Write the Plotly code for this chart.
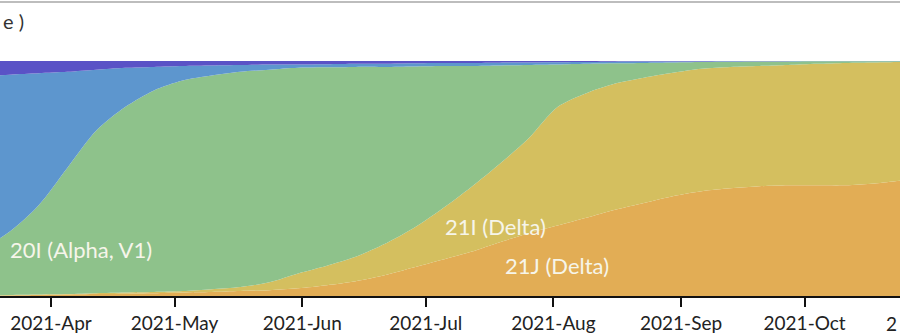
import plotly.graph_objects as go

dates = ["2021-03-15", "2021-03-22", "2021-03-29", "2021-04-05", "2021-04-12", "2021-04-19",
         "2021-04-26", "2021-05-03", "2021-05-10", "2021-05-17", "2021-05-24", "2021-05-31",
         "2021-06-07", "2021-06-14", "2021-06-21", "2021-06-28", "2021-07-05", "2021-07-12",
         "2021-07-19", "2021-07-26", "2021-08-02", "2021-08-09", "2021-08-16", "2021-08-23",
         "2021-08-30", "2021-09-06", "2021-09-13", "2021-09-20", "2021-09-27", "2021-10-04",
         "2021-10-11", "2021-10-18", "2021-10-25", "2021-11-01"]

# clade frequencies (%), bottom to top of the stack
clade_21J = [0.0, 0.2, 0.4, 0.6, 0.8, 1.0, 1.2, 1.5, 1.7, 2.1, 2.5, 3.3, 4.6, 6.3, 8.8, 12.1, 15.4,
             18.8, 22.9, 26.7, 30.0, 33.3, 36.7, 39.6, 42.5, 44.6, 45.8, 46.7, 47.1, 47.1, 47.1,
             47.9, 49.2, 49.6]
clade_21I = [0.2, 0.2, 0.2, 0.2, 0.4, 0.5, 0.5, 0.6, 1.2, 1.7, 3.3, 6.3, 8.3, 10.4, 13.3, 16.7, 21.7,
             27.5, 33.4, 40.4, 50.4, 53.0, 53.7, 53.3, 52.5, 52.1, 51.7, 51.2, 51.2, 51.7, 52.1,
             51.5, 50.4, 50.0]
clade_20I = [19.5, 27.0, 38.0, 53.8, 69.2, 78.9, 85.8, 89.6, 90.9, 91.6, 90.5, 87.5, 84.4, 80.8, 75.4,
             68.9, 60.8, 51.6, 41.8, 31.2, 18.1, 12.5, 8.6, 6.3, 4.4, 2.9, 2.2, 1.9, 1.5, 1.1, 0.7,
             0.5, 0.3, 0.3]
clade_blue = [73.6, 66.8, 56.2, 40.8, 25.9, 16.7, 10.0, 6.2, 4.3, 2.9, 2.2, 1.4, 1.3, 1.3, 1.3, 1.3,
              1.2, 1.3, 1.2, 1.1, 1.0, 0.8, 0.7, 0.55, 0.4, 0.2, 0.2, 0.1, 0.1, 0.05, 0.05, 0.05,
              0.05, 0.05]
clade_purple = [6.7, 5.8, 5.2, 4.6, 3.7, 2.9, 2.5, 2.1, 1.9, 1.7, 1.5, 1.5, 1.4, 1.2, 1.2, 1.0, 0.9,
                0.8, 0.7, 0.6, 0.5, 0.4, 0.3, 0.25, 0.2, 0.2, 0.1, 0.1, 0.1, 0.05, 0.05, 0.05,
                0.05, 0.05]

series_names = ["21J (Delta)", "21I (Delta)", "20I (Alpha, V1)", "20A/20B", "other"]
series_values = [clade_21J, clade_21I, clade_20I, clade_blue, clade_purple]
series_colors = ["#E2AD55", "#D4BF5F", "#8EC28B", "#5D96CE", "#5A52C6"]

label_texts = ["20I (Alpha, V1)", "21I (Delta)", "21J (Delta)"]
label_x = ["2021-04-08 04:00", "2021-07-18 00:00", "2021-08-01 22:00"]
label_y = [20.0, 29.6, 12.9]

tick_vals = ["2021-04-01", "2021-05-01", "2021-06-01", "2021-07-01", "2021-08-01",
             "2021-09-01", "2021-10-01"]
tick_text = ["2021-Apr", "2021-May", "2021-Jun", "2021-Jul", "2021-Aug", "2021-Sep", "2021-Oct"]

fig = go.Figure()
for name, vals, col in zip(series_names, series_values, series_colors):
    fig.add_trace(go.Scatter(
        x=dates, y=vals, name=name, mode="lines", stackgroup="one", groupnorm="percent",
        line=dict(width=0, shape="spline", smoothing=0.8, color=col),
        fillcolor=col, hoverinfo="skip"))

for t, x, y in zip(label_texts, label_x, label_y):
    fig.add_annotation(x=x, y=y, xref="x", yref="y", text=t, showarrow=False,
                       font=dict(family="Lato", size=22, color="#f6f5ea"),
                       xanchor="center", yanchor="middle")

# visible end of the title (the rest lies beyond the left edge of the frame)
fig.add_annotation(x=1 / 900, y=(301 - 20) / 240, xref="paper", yref="paper",
                   text="e )", showarrow=False,
                   font=dict(family="Lato", size=20, color="#333333"),
                   xanchor="left", yanchor="middle")

# visible start of the next month label at the right edge
fig.add_annotation(x=899 / 900, y=-(329 - 301) / 240, xref="paper", yref="paper",
                   text="2", showarrow=False,
                   font=dict(family="Lato", size=19, color="#222222"),
                   xanchor="right", yanchor="middle")

fig.add_shape(type="line", xref="paper", yref="paper", x0=0, x1=1,
              y0=(301 - 0.8) / 240, y1=(301 - 0.8) / 240,
              line=dict(color="#bdbdbd", width=2))

fig.update_layout(
    width=900, height=334,
    margin=dict(l=0, r=0, t=61, b=33),
    plot_bgcolor="white", paper_bgcolor="white",
    showlegend=False,
    xaxis=dict(range=["2021-03-19 14:45", "2021-10-24 04:00"], tickvals=tick_vals,
               ticktext=tick_text, ticks="outside", ticklen=9, tickwidth=1.5,
               tickcolor="#111111", showline=True, linecolor="#111111", linewidth=1.5,
               showgrid=False, zeroline=False,
               tickfont=dict(family="Lato", size=19, color="#222222")),
    yaxis=dict(range=[0, 100], visible=False, showgrid=False, zeroline=False),
)

fig.write_html("out.html")
